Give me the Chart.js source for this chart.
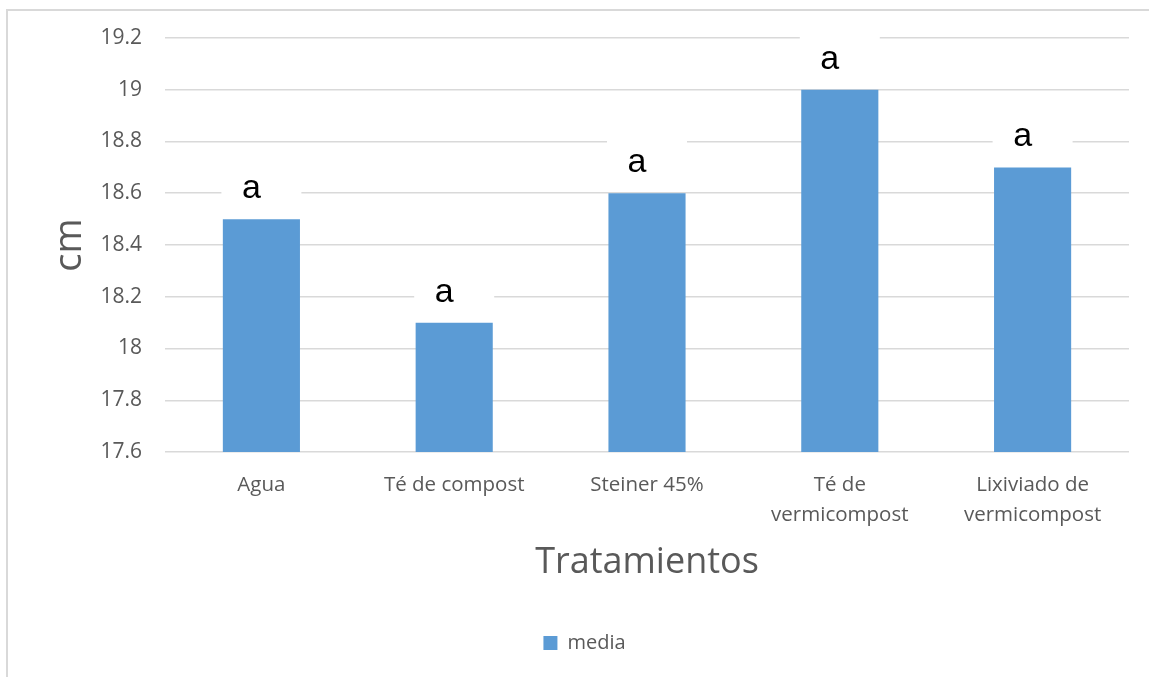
<!DOCTYPE html>
<html>
<head>
<meta charset="utf-8">
<script src="https://cdn.jsdelivr.net/npm/chart.js@4"></script>
<style>
  html, body { margin: 0; padding: 0; background: #fff; overflow: hidden; }
  #wrap { position: relative; width: 1149px; height: 677px; }
</style>
</head>
<body>
<div id="wrap"><canvas id="mediaChart"></canvas></div>
<script>
// Chart data
const categories = ['Agua', 'Té de compost', 'Steiner 45%', ['Té de', 'vermicompost'], ['Lixiviado de', 'vermicompost']];
const media = [18.5, 18.1, 18.6, 19.0, 18.7];
const letters = ['a', 'a', 'a', 'a', 'a'];
const yTicks = [17.6, 17.8, 18, 18.2, 18.4, 18.6, 18.8, 19, 19.2];

const textGray = '#595959';
const gridGray = '#d9d9d9';

// light frame round the chart (left and top edges are visible)
const framePlugin = {
    id: 'frame',
    beforeDraw(chart) {
        const ctx = chart.ctx;
        ctx.save();
        ctx.strokeStyle = gridGray;
        ctx.lineWidth = 2;
        ctx.beginPath();
        ctx.moveTo(7, chart.height);
        ctx.lineTo(7, 10);
        ctx.lineTo(chart.width, 10);
        ctx.stroke();
        ctx.restore();
    }
};

// letter labels above bars, on a white box that hides the gridlines
const letterPlugin = {
    id: 'letters',
    afterDatasetsDraw(chart) {
        const ctx = chart.ctx;
        const meta = chart.getDatasetMeta(0);
        ctx.save();
        meta.data.forEach((bar, i) => {
            const base = bar.y - 21;
            ctx.fillStyle = '#ffffff';
            ctx.fillRect(bar.x - 40, base - 40, 80, 52);
            ctx.fillStyle = '#000000';
            ctx.font = '34px "Liberation Sans", Arial, sans-serif';
            ctx.textAlign = 'center';
            ctx.textBaseline = 'alphabetic';
            ctx.fillText(letters[i], bar.x - 10, base);
        });
        ctx.restore();
    }
};

document.addEventListener('DOMContentLoaded', function() {
    const ctx = document.getElementById('mediaChart').getContext('2d');
    new Chart(ctx, {
        type: 'bar',
        data: {
            labels: categories,
            datasets: [{
                label: 'media',
                data: media,
                backgroundColor: '#5B9BD5',
                borderWidth: 0,
                categoryPercentage: 1.0,
                barPercentage: 0.4
            }]
        },
        options: {
            responsive: true,
            maintainAspectRatio: false,
            animation: false,
            layout: {
                padding: { left: 40, right: 20, top: 38, bottom: 14 }
            },
            plugins: {
                legend: {
                    display: true,
                    position: 'bottom',
                    labels: {
                        boxWidth: 14,
                        boxHeight: 14,
                        padding: 10,
                        color: textGray,
                        font: { family: '"Open Sans", sans-serif', size: 20 }
                    }
                },
                tooltip: { enabled: false }
            },
            scales: {
                x: {
                    grid: { display: false, drawTicks: false },
                    border: { display: false },
                    ticks: {
                        color: textGray,
                        padding: 18,
                        maxRotation: 0,
                        autoSkip: false,
                        font: { family: '"Open Sans", sans-serif', size: 20.5, lineHeight: 1.48 }
                    },
                    title: {
                        display: true,
                        text: 'Tratamientos',
                        color: textGray,
                        padding: { top: 0, bottom: 39 },
                        font: { family: '"Open Sans", sans-serif', size: 36 }
                    },
                    afterFit(scale) { scale.height = 171; }
                },
                y: {
                    min: 17.6,
                    max: 19.2,
                    afterBuildTicks(scale) {
                        scale.ticks = yTicks.map(v => ({ value: v }));
                    },
                    grid: { color: gridGray, lineWidth: 1.5, drawTicks: false },
                    border: { display: false },
                    ticks: {
                        color: textGray,
                        padding: 23,
                        font: { family: '"Open Sans", sans-serif', size: 21 },
                        callback: v => String(Number(v.toFixed(1)))
                    },
                    title: {
                        display: true,
                        text: 'cm',
                        color: textGray,
                        padding: { top: 7, bottom: 0 },
                        font: { family: '"Open Sans", sans-serif', size: 38 }
                    },
                    afterFit(scale) { scale.width = 125; }
                }
            }
        },
        plugins: [framePlugin, letterPlugin]
    });
});
</script>
</body>
</html>
